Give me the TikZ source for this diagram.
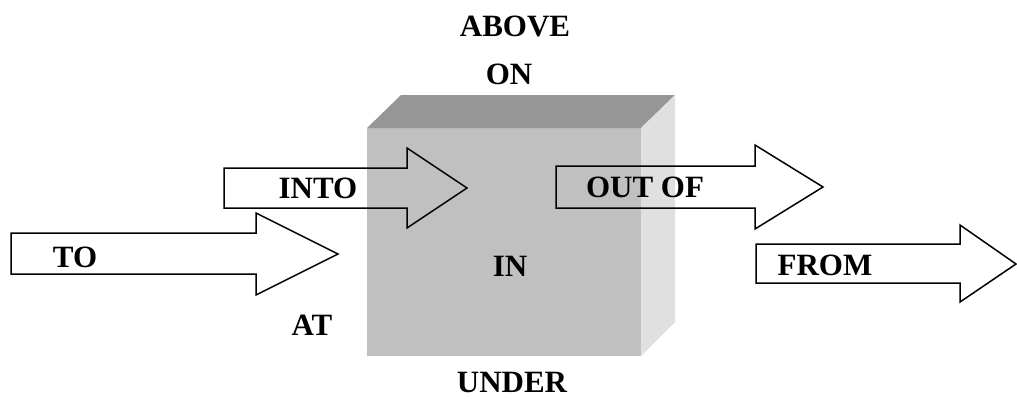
\documentclass[tikz,border=0pt]{standalone}
\usepackage{fontspec}
\setmainfont{Liberation Serif}
\begin{document}
\begin{tikzpicture}[x=1pt,y=-1pt,
  lbl/.style={inner sep=0pt,font=\fontsize{31}{31}\selectfont\bfseries},
  blockarrow/.style={draw=black,line width=1.5pt,line join=miter}]
\useasboundingbox (0,0) rectangle (1017,400);
% the cube: front, top and right faces
\fill[fill={rgb,255:red,192;green,192;blue,192}] (367,128) rectangle (641,356);
\fill[fill={rgb,255:red,150;green,150;blue,150}] (367,128) -- (401,95) -- (675,95) -- (641,128) -- cycle;
\fill[fill={rgb,255:red,224;green,224;blue,224}] (641,128) -- (675,95) -- (675,322) -- (641,356) -- cycle;
% block arrows (outlines only)
\draw[blockarrow] (11,233) -- (256,233) -- (256,213) -- (338,254) -- (256,295) -- (256,274) -- (11,274) -- cycle;
\draw[blockarrow] (224,168) -- (407,168) -- (407,148) -- (467,188) -- (407,228) -- (407,208) -- (224,208) -- cycle;
\draw[blockarrow] (556,166) -- (755,166) -- (755,145) -- (823,187) -- (755,229) -- (755,208) -- (556,208) -- cycle;
\draw[blockarrow] (756,244) -- (960,244) -- (960,225) -- (1016,264) -- (960,302) -- (960,283) -- (756,283) -- cycle;
% labels
\node[lbl] (above) at (515,26) {ABOVE};
\node[lbl] (on) at (509,74) {ON};
\node[lbl] (in) at (510,266) {IN};
\node[lbl] (at) at (312,325) {AT};
\node[lbl] (under) at (512,382) {UNDER};
\node[lbl] (to) at (75,257) {TO};
\node[lbl] (into) at (318,188) {INTO};
\node[lbl] (outof) at (645,187) {OUT OF};
\node[lbl] (from) at (825,265) {FROM};
\end{tikzpicture}
\end{document}
